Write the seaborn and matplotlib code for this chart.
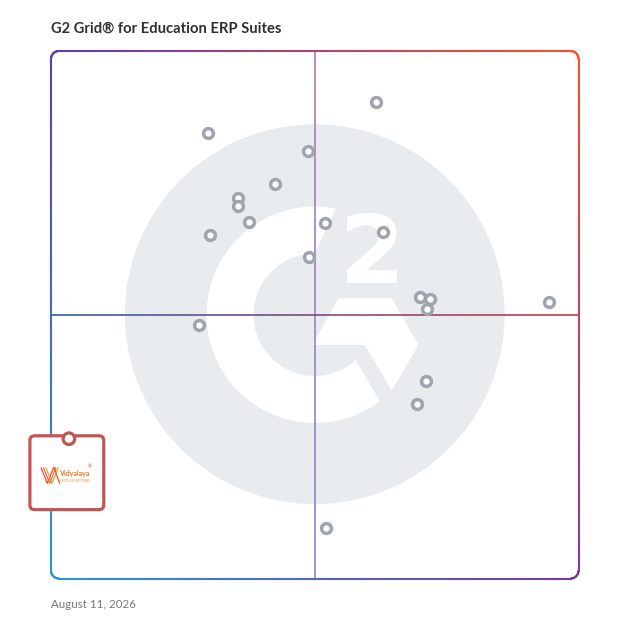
import numpy as np
import pandas as pd
import matplotlib
matplotlib.use("Agg")
import matplotlib.pyplot as plt
import seaborn as sns
from matplotlib.collections import LineCollection
from matplotlib.patches import Circle, Polygon, FancyBboxPatch, PathPatch
from matplotlib.textpath import TextPath
from matplotlib.font_manager import FontProperties
from matplotlib.transforms import Affine2D
from matplotlib.colors import to_rgb

title = "G2 Grid® for Education ERP Suites"
date_label = "August 11, 2026"

# satisfaction (x) vs market presence (y), both on a 0-100 scale
satisfaction = [61.6, 29.8, 48.7, 42.4, 35.4, 35.4, 37.6, 51.9, 30.1, 62.9,
                48.9, 69.9, 71.8, 71.2, 94.4, 28.0, 71.0, 69.3, 52.1]
market_presence = [90.3, 84.5, 81.1, 74.8, 72.2, 70.6, 67.6, 67.3, 65.1, 65.7,
                   61.0, 53.4, 53.0, 51.1, 52.4, 48.1, 37.4, 33.0, 9.5]

# highlighted product (pin)
pin_name = "Vidyalaya"
pin_tagline = "School ERP Software"
pin_x, pin_y = 3.4, 26.5

df = pd.DataFrame({"satisfaction": satisfaction, "market_presence": market_presence})

sns.set_style("white")
plt.rcParams["font.family"] = ["Lato", "DejaVu Sans"]

fig = plt.figure(figsize=(6.28, 6.28), dpi=100)
W = 628.0
ax = fig.add_axes([51 / W, (W - 578.5) / W, 527.5 / W, 527.5 / W])
ax.set_xlim(0, 100)
ax.set_ylim(0, 100)
ax.axis("off")

# --- G2 watermark ---
ax.add_patch(Circle((50, 50.1), 36.0, fc="#e9ecef", ec="none", zorder=0))
th_o = np.radians(np.linspace(78.6, 307, 200))
th_i = np.radians(np.linspace(312, 90, 200))
ring = np.vstack([
    np.column_stack([50 + 20.5 * np.cos(th_o), 50 + 20.5 * np.sin(th_o)]),
    np.column_stack([50 + 11.6 * np.cos(th_i), 50 + 11.6 * np.sin(th_i)]),
])
ax.add_patch(Polygon(ring, closed=True, fc="white", ec="none", zorder=1))
chevron = [(54.47, 53.12), (64.59, 53.12), (69.64, 44.27), (64.59, 35.61),
           (59.53, 44.27), (49.61, 44.27)]
ax.add_patch(Polygon(chevron, closed=True, fc="white", ec="none", zorder=1))
tp = TextPath((0, 0), "2", size=1, prop=FontProperties(family="DejaVu Sans", weight="bold"))
ext = tp.get_extents()
x0, x1, y0, y1 = 56.1, 65.6, 56.0, 69.3
tr = (Affine2D().translate(-ext.x0, -ext.y0)
      .scale((x1 - x0) / ext.width, (y1 - y0) / ext.height)
      .translate(x0, y0))
ax.add_patch(PathPatch(tr.transform_path(tp), fc="white", ec="none", zorder=1))


def gradient_line(ax, pts, colors, lw, z):
    segs = np.stack([pts[:-1], pts[1:]], axis=1)
    lc = LineCollection(segs, colors=colors, linewidths=lw, capstyle="round",
                        zorder=z, clip_on=False)
    ax.add_collection(lc)


def mix(c1, c2, t):
    c1, c2 = np.array(to_rgb(c1)), np.array(to_rgb(c2))
    return c1[None, :] * (1 - t[:, None]) + c2[None, :] * t[:, None]


# --- quadrant lines ---
t = np.linspace(0, 1, 300)
vpts = np.column_stack([np.full_like(t, 50), 100 - 100 * t])
gradient_line(ax, vpts, mix("#b57fae", "#8b8dd2", t[:-1]), 1.1, 2)
hpts = np.column_stack([100 * t, np.full_like(t, 50)])
gradient_line(ax, hpts, mix("#3a62b4", "#c9404e", t[:-1]), 1.1, 2)

# --- rounded gradient border ---
r = 1.5
n = 200
path = []
path.append(np.column_stack([np.linspace(r, 100 - r, n), np.zeros(n)]))
a = np.radians(np.linspace(-90, 0, 20))
path.append(np.column_stack([100 - r + r * np.cos(a), r + r * np.sin(a)]))
path.append(np.column_stack([np.full(n, 100), np.linspace(r, 100 - r, n)]))
a = np.radians(np.linspace(0, 90, 20))
path.append(np.column_stack([100 - r + r * np.cos(a), 100 - r + r * np.sin(a)]))
path.append(np.column_stack([np.linspace(100 - r, r, n), np.full(n, 100)]))
a = np.radians(np.linspace(90, 180, 20))
path.append(np.column_stack([r + r * np.cos(a), 100 - r + r * np.sin(a)]))
path.append(np.column_stack([np.zeros(n), np.linspace(100 - r, r, n)]))
a = np.radians(np.linspace(180, 270, 20))
path.append(np.column_stack([r + r * np.cos(a), r + r * np.sin(a)]))
path = np.vstack(path)
mid = (path[:-1] + path[1:]) / 2
u, v = mid[:, 0] / 100, mid[:, 1] / 100
TL, TR = np.array(to_rgb("#5b3fb0")), np.array(to_rgb("#ff4f2a"))
BL, BR = np.array(to_rgb("#2a96d4")), np.array(to_rgb("#7a3a9a"))
cols = (((1 - u) * (1 - v))[:, None] * BL + (u * (1 - v))[:, None] * BR
        + ((1 - u) * v)[:, None] * TL + (u * v)[:, None] * TR)
gradient_line(ax, path, np.clip(cols, 0, 1), 1.5, 3)

# --- products ---
sns.scatterplot(data=df, x="satisfaction", y="market_presence", s=50, color="white",
                edgecolor="#a0a4ae", linewidth=2.5, ax=ax, zorder=4, legend=False)
ax.set_xlim(0, 100)
ax.set_ylim(0, 100)

# --- highlighted product callout ---
red = "#c25552"
bw, bh = 14.0, 14.0
bx, by = pin_x - 7.4, pin_y + 0.55 - bh
ax.add_patch(FancyBboxPatch((bx, by), bw, bh, boxstyle="round,pad=0,rounding_size=0.9",
                            fc="white", ec=red, lw=2.3, zorder=5, clip_on=False))
ax.add_patch(Circle((pin_x, pin_y), 1.1, fc="white", ec=red, lw=2.3, zorder=6, clip_on=False))
# logo mark
for k, c in enumerate(["#e8392a", "#f05a26", "#f7941d"]):
    off = k * 0.45
    ax.plot([bx + 2.1 + off, bx + 3.3 + off, bx + 4.5 + off],
            [by + 8.0, by + 5.0, by + 8.0], color=c, lw=0.8, zorder=6,
            solid_capstyle="butt", clip_on=False)
ax.plot([bx + 4.6, bx + 5.6], [by + 8.0, by + 5.0], color="#f05a26", lw=0.9,
        zorder=6, clip_on=False)
ax.text(bx + 5.55, by + 6.9, pin_name, fontsize=5, fontweight="bold", color="#f07a1a",
        ha="left", va="center", zorder=7, clip_on=False)
ax.text(bx + 11.4, by + 8.2, "®", fontsize=3.6, color="#e05a2a",
        ha="center", va="center", zorder=7, clip_on=False)
ax.text(bx + 5.6, by + 5.5, pin_tagline.upper(), fontsize=1.9, color="#f08a30",
        ha="left", va="center", zorder=7, clip_on=False)

# --- title and date ---
fig.text(51 / W, 1 - 29 / W, title, fontsize=10.6, fontweight="bold", color="#2f2f2f",
         ha="left", va="center")
fig.text(51 / W, 1 - 604 / W, date_label, fontsize=8.3, color="#777777",
         ha="left", va="center")

fig.savefig("out.png", dpi=100)
